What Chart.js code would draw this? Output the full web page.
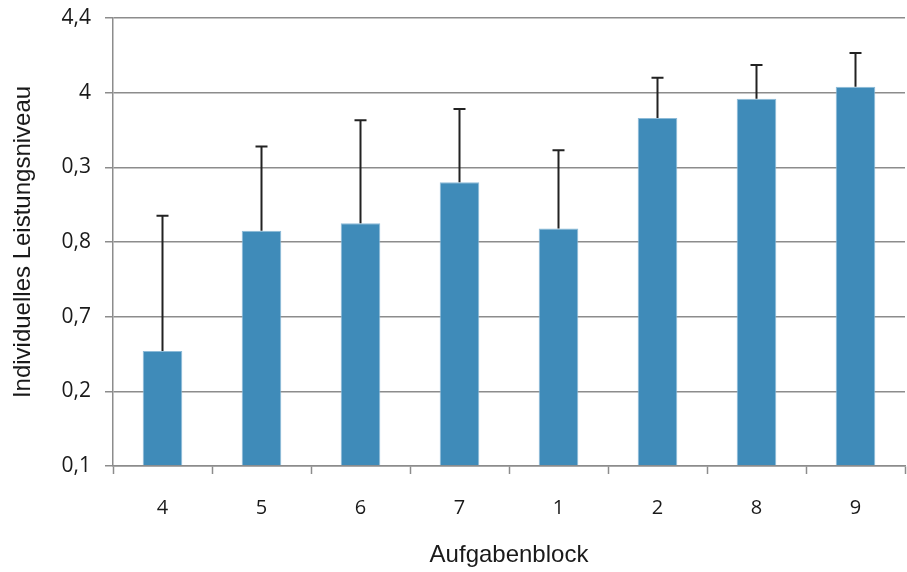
<!DOCTYPE html>
<html>
<head>
<meta charset="utf-8">
<script src="https://cdn.jsdelivr.net/npm/chart.js@4/dist/chart.umd.min.js"></script>
<style>
    html, body { margin: 0; padding: 0; background: #fff; }
    #wrap { width: 907px; height: 572px; }
</style>
</head>
<body>
<div id="wrap"><canvas id="blocks-chart"></canvas></div>
<script>
// task blocks in the order they are plotted
const blocks = ['4', '5', '6', '7', '1', '2', '8', '9'];
// mean level per block, in axis step units
const levels = [1.54, 3.15, 3.25, 3.80, 3.18, 4.66, 4.92, 5.08];
// upper end of the error whisker for each block
const levelsHigh = [3.35, 4.28, 4.63, 4.78, 4.23, 5.20, 5.37, 5.53];
// labels printed on the y axis, bottom to top
const yTicks = ['0,1', '0,2', '0,7', '0,8', '0,3', '4', '4,4'];

const errorBars = {
    id: 'errorBars',
    afterDatasetsDraw(chart) {
        const ctx = chart.ctx;
        const y = chart.scales.y;
        const meta = chart.getDatasetMeta(0);
        ctx.save();
        ctx.strokeStyle = '#222';
        ctx.lineWidth = 2;
        meta.data.forEach((bar, i) => {
            const top = y.getPixelForValue(levelsHigh[i]);
            ctx.beginPath();
            ctx.moveTo(bar.x, bar.y);
            ctx.lineTo(bar.x, top);
            ctx.moveTo(bar.x - 6, top);
            ctx.lineTo(bar.x + 6, top);
            ctx.stroke();
        });
        ctx.restore();
    }
};

const ctx = document.getElementById('blocks-chart').getContext('2d');
const myChart = new Chart(ctx, {
    type: 'bar',
    data: {
        labels: blocks,
        datasets: [{
            data: levels,
            backgroundColor: '#3f8bb9',
            borderColor: '#8dbbd8',
            borderWidth: 1,
            barPercentage: 0.4,
            categoryPercentage: 1
        }]
    },
    options: {
        responsive: true,
        maintainAspectRatio: false,
        animation: false,
        layout: {
            padding: { top: 18, right: 2, left: 0, bottom: 0 }
        },
        plugins: {
            legend: { display: false },
            tooltip: { enabled: false }
        },
        scales: {
            x: {
                afterFit: function(scale) {
                    scale.height = 106;
                    scale.paddingRight = 0;
                },
                grid: {
                    offset: true,
                    drawOnChartArea: false,
                    drawTicks: true,
                    tickLength: 8,
                    tickColor: '#8c8c8c',
                    tickWidth: 1.5
                },
                border: { color: '#8c8c8c', width: 1.5 },
                ticks: {
                    color: '#1a1a1a',
                    padding: 22,
                    font: { family: 'Open Sans', size: 20 }
                },
                title: {
                    display: true,
                    text: 'Aufgabenblock',
                    color: '#1a1a1a',
                    padding: { top: 12, bottom: 2 },
                    font: { family: 'Liberation Sans', size: 24 }
                }
            },
            y: {
                min: 0,
                max: 6,
                afterFit: function(scale) {
                    scale.width = 113;
                    scale.paddingTop = 0;
                    scale.paddingBottom = 0;
                },
                grid: {
                    color: '#8c8c8c',
                    lineWidth: 1.5,
                    tickLength: 8
                },
                border: { color: '#8c8c8c', width: 1.5 },
                ticks: {
                    stepSize: 1,
                    color: '#1a1a1a',
                    padding: 14,
                    font: { family: 'Open Sans', size: 21 },
                    callback: function(value) { return yTicks[value]; }
                },
                title: {
                    display: true,
                    text: 'Individuelles Leistungsniveau',
                    color: '#1a1a1a',
                    padding: { top: 9, bottom: 0 },
                    font: { family: 'Liberation Sans', size: 24 }
                }
            }
        }
    },
    plugins: [errorBars]
});
</script>
</body>
</html>
